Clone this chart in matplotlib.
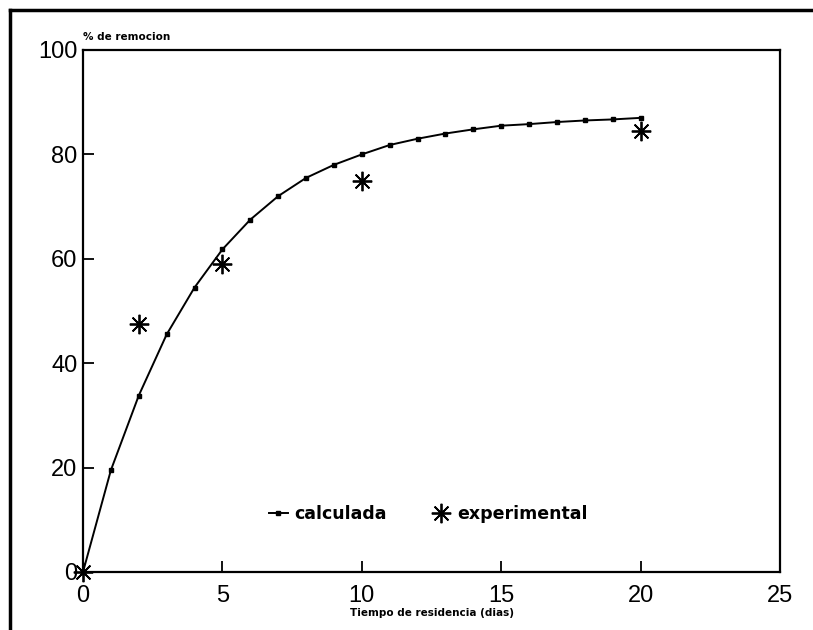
import matplotlib
matplotlib.use("Agg")
import matplotlib.pyplot as plt
from matplotlib.lines import Line2D

# Data
t_calc = list(range(0, 21))
y_calc = [0, 19.5, 33.8, 45.5, 54.5, 61.8, 67.5, 72.0, 75.5, 78.0, 80.0,
          81.8, 83.0, 84.0, 84.8, 85.5, 85.8, 86.2, 86.5, 86.7, 87.0]
t_exp = [0, 2, 5, 10, 20]
y_exp = [0, 47.5, 59.0, 75.0, 84.5]
x_ticks = [0, 5, 10, 15, 20, 25]
y_ticks = [0, 20, 40, 60, 80, 100]

plt.rcParams['font.family'] = ['Liberation Sans', 'DejaVu Sans']

fig = plt.figure(figsize=(8.13, 6.3), dpi=100)
ax = fig.add_axes([83/813, 1-572/630, (780-83)/813, (572-50)/630])

ax.plot(t_calc, y_calc, color='black', lw=1.4, marker='s', ms=2.8,
        label='calculada')
ax.plot(t_exp, y_exp, linestyle='none', marker=(8, 2, 0), ms=14,
        mew=1.3, color='black', label='experimental', clip_on=False)

ax.set_xlim(0, 25)
ax.set_ylim(0, 100)
ax.set_xticks(x_ticks)
ax.set_yticks(y_ticks)
ax.set_xticklabels([str(v) for v in x_ticks])
ax.set_yticklabels([str(v) for v in y_ticks])
ax.tick_params(direction='in', length=8, width=1.3, labelsize=17)
ax.tick_params(axis='x', pad=9)
ax.tick_params(axis='y', pad=4)
for s in ax.spines.values():
    s.set_linewidth(1.6)

small = dict(family=['DejaVu Sans'], fontsize=7.5, fontweight='bold')
ax.set_xlabel('Tiempo de residencia (dias)', labelpad=1, **small)
ax.text(0, 1.015, '% de remocion', transform=ax.transAxes,
        ha='left', va='bottom', **small)

leg = ax.legend(loc='center', bbox_to_anchor=(0.495, 0.111), ncol=2,
                frameon=False, handlelength=1.1,
                handletextpad=0.35, columnspacing=2.6,
                prop=dict(family=['DejaVu Sans'], size=12.5, weight='semibold'))

# page border lines (scan frame)
fig.add_artist(Line2D([10/813, 10/813], [0, 1-10/630], color='black', lw=2.5,
                      transform=fig.transFigure))
fig.add_artist(Line2D([10/813, 1], [1-10/630, 1-10/630], color='black', lw=2.5,
                      transform=fig.transFigure))

fig.savefig('out.png', dpi=100)
